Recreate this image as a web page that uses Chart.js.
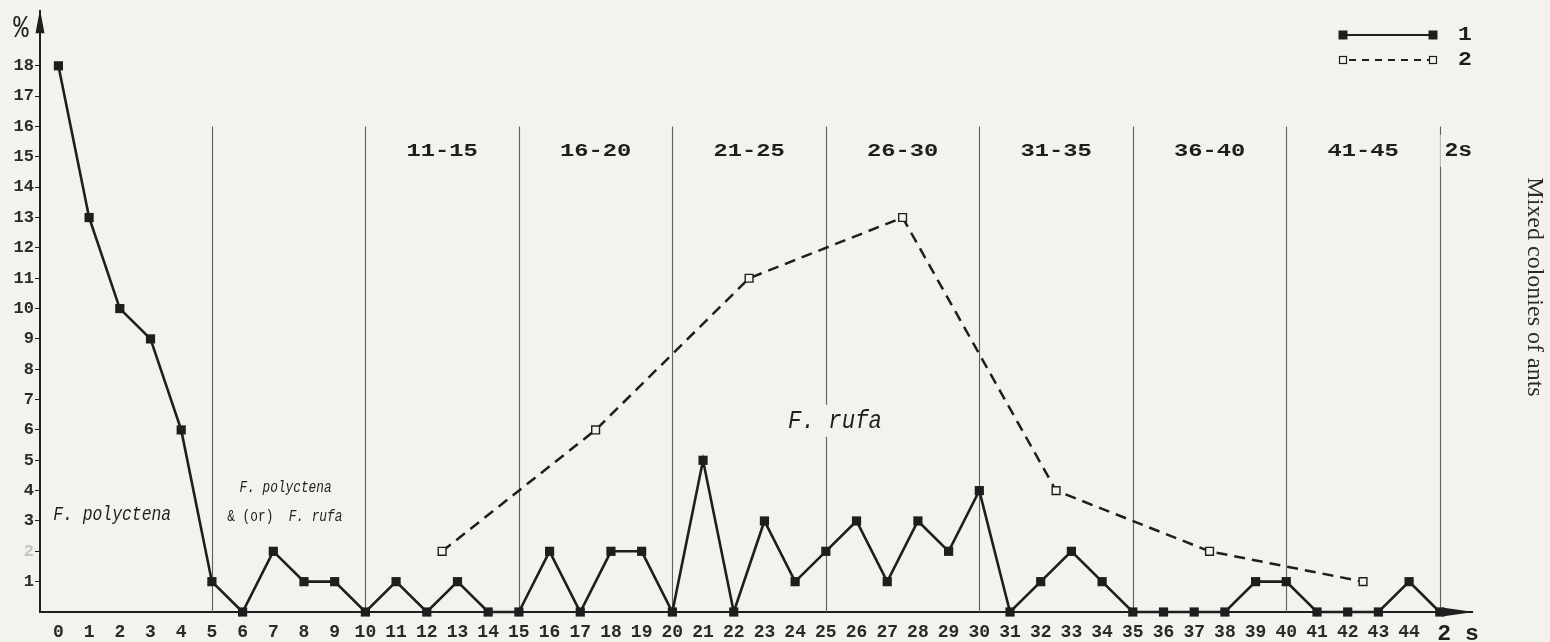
<!DOCTYPE html>
<html>
<head>
<meta charset="utf-8">
<script src="https://cdn.jsdelivr.net/npm/chart.js@4.4.1/dist/chart.umd.min.js"></script>
<style>
    html, body { margin: 0; padding: 0; background: #f3f2ed; overflow: hidden; }
    #chart { display: block; }
</style>
</head>
<body>
<canvas id="chart" width="1550" height="642"></canvas>
<script>
// ========================================
// DATA
// ========================================
const xTicks = [0, 1, 2, 3, 4, 5, 6, 7, 8, 9, 10, 11, 12, 13, 14, 15, 16, 17, 18, 19, 20, 21, 22,
    23, 24, 25, 26, 27, 28, 29, 30, 31, 32, 33, 34, 35, 36, 37, 38, 39, 40, 41, 42, 43, 44];
const yTicks = [1, 2, 3, 4, 5, 6, 7, 8, 9, 10, 11, 12, 13, 14, 15, 16, 17, 18];

// series 1: one value per class 0..45
const xSeries1 = [0, 1, 2, 3, 4, 5, 6, 7, 8, 9, 10, 11, 12, 13, 14, 15, 16, 17, 18, 19, 20, 21, 22,
    23, 24, 25, 26, 27, 28, 29, 30, 31, 32, 33, 34, 35, 36, 37, 38, 39, 40, 41, 42, 43, 44, 45];
const ySeries1 = [18, 13, 10, 9, 6, 1, 0, 2, 1, 1, 0, 1, 0, 1, 0, 0, 2, 0, 2, 2, 0, 5, 0,
    3, 1, 2, 3, 1, 3, 2, 4, 0, 1, 2, 1, 0, 0, 0, 0, 1, 1, 0, 0, 0, 1, 0];

// series 2: one value per 5-class group
const xSeries2 = [12.5, 17.5, 22.5, 27.5, 32.5, 37.5, 42.5];
const ySeries2 = [2, 6, 11, 13, 4, 2, 1];

const groupBounds = [5, 10, 15, 20, 25, 30, 35, 40, 45];
const groupTop = 16;
const groupLabels = ['11-15', '16-20', '21-25', '26-30', '31-35', '36-40', '41-45'];
const groupCenters = [12.5, 17.5, 22.5, 27.5, 32.5, 37.5, 42.5];
const legendLabels = ['1', '2'];

// ========================================
// STYLE
// ========================================
const INK = '#1e1e1e';
const PAPER = '#f3f2ed';
const MONO = '"Liberation Mono", "DejaVu Sans Mono", monospace';

function toPoints(xs, ys) {
    return xs.map((x, i) => ({ x: x, y: ys[i] }));
}

// draw text scaled horizontally, with a paper patch behind it
function drawText(ctx, txt, x, y, font, sx, clear, align) {
    ctx.save();
    ctx.font = font;
    ctx.textAlign = align || 'center';
    ctx.textBaseline = 'middle';
    const w = ctx.measureText(txt).width * sx;
    if (clear) {
        ctx.fillStyle = PAPER;
        ctx.fillRect(x - w / 2 - 4, y - 16, w + 8, 32);
    }
    ctx.translate(x, y);
    ctx.scale(sx, 1);
    ctx.fillStyle = INK;
    ctx.fillText(txt, 0, 0);
    ctx.restore();
}

const decorPlugin = {
    id: 'decor',
    beforeDraw(chart) {
        const ctx = chart.ctx;
        ctx.save();
        ctx.fillStyle = PAPER;
        ctx.fillRect(0, 0, chart.width, chart.height);
        ctx.restore();
    },
    beforeDatasetsDraw(chart) {
        const ctx = chart.ctx;
        const xs = chart.scales.x;
        const ys = chart.scales.y;

        // group separators
        ctx.save();
        ctx.strokeStyle = '#606060';
        ctx.lineWidth = 1.1;
        groupBounds.forEach(b => {
            const px = Math.round(xs.getPixelForValue(b)) + 0.5;
            ctx.beginPath();
            ctx.moveTo(px, ys.getPixelForValue(groupTop));
            ctx.lineTo(px, ys.getPixelForValue(0));
            ctx.stroke();
        });
        ctx.restore();

        // group labels
        groupLabels.forEach((lab, i) => {
            drawText(ctx, lab, xs.getPixelForValue(groupCenters[i]), ys.getPixelForValue(15.2),
                'bold 19px ' + MONO, 1.25, false);
        });
        drawText(ctx, '2s', xs.getPixelForValue(45.6), ys.getPixelForValue(15.2),
            'bold 20px ' + MONO, 1.15, true);

        // species labels
        drawText(ctx, 'F. polyctena', xs.getPixelForValue(1.75), ys.getPixelForValue(3.2),
            'italic 21px ' + MONO, 0.78, false);
        drawText(ctx, 'F. polyctena', xs.getPixelForValue(7.4), ys.getPixelForValue(4.1),
            'italic 16px ' + MONO, 0.8, false);
        drawText(ctx, '& (or)', xs.getPixelForValue(5.5), ys.getPixelForValue(3.15),
            '16px ' + MONO, 0.8, false, 'left');
        drawText(ctx, 'F. rufa', xs.getPixelForValue(7.5), ys.getPixelForValue(3.15),
            'italic 16px ' + MONO, 0.8, false, 'left');
        drawText(ctx, 'F. rufa', xs.getPixelForValue(25.3), ys.getPixelForValue(6.3),
            'italic 26px ' + MONO, 0.86, true);
    },
    afterDraw(chart) {
        const ctx = chart.ctx;
        const area = chart.chartArea;
        ctx.save();
        ctx.fillStyle = INK;

        // y arrow
        ctx.beginPath();
        ctx.moveTo(area.left, area.top - 2);
        ctx.lineTo(area.left - 4.5, area.top + 22);
        ctx.lineTo(area.left + 4.5, area.top + 22);
        ctx.closePath();
        ctx.fill();

        // x arrow
        ctx.beginPath();
        ctx.moveTo(area.right + 2, area.bottom);
        ctx.lineTo(area.right - 30, area.bottom - 4.5);
        ctx.lineTo(area.right - 30, area.bottom + 4.5);
        ctx.closePath();
        ctx.fill();

        // axis names
        drawText(ctx, '%', 21, 29, '32px ' + MONO, 0.8, false);
        drawText(ctx, '2 s', area.right - 14, area.bottom + 22, 'bold 22px ' + MONO, 1.05, false);

        // legend
        const lx1 = 1343, lx2 = 1433;
        const ly = [35, 60];
        ctx.strokeStyle = INK;
        ctx.lineWidth = 2.2;
        ctx.beginPath();
        ctx.moveTo(lx1, ly[0]);
        ctx.lineTo(lx2, ly[0]);
        ctx.stroke();
        ctx.fillRect(lx1 - 4.5, ly[0] - 4.5, 9, 9);
        ctx.fillRect(lx2 - 4.5, ly[0] - 4.5, 9, 9);

        ctx.lineWidth = 2;
        ctx.setLineDash([7, 6]);
        ctx.beginPath();
        ctx.moveTo(lx1 + 6, ly[1]);
        ctx.lineTo(lx2 - 4, ly[1]);
        ctx.stroke();
        ctx.setLineDash([]);
        ctx.lineWidth = 1.2;
        ctx.fillStyle = PAPER;
        [lx1, lx2].forEach(px => {
            ctx.fillRect(px - 3.5, ly[1] - 3.5, 7, 7);
            ctx.strokeRect(px - 3.5, ly[1] - 3.5, 7, 7);
        });
        ctx.fillStyle = INK;
        legendLabels.forEach((lab, i) => {
            drawText(ctx, lab, 1465, ly[i], 'bold 21px ' + MONO, 1.1, false);
        });

        // side title
        ctx.save();
        ctx.translate(1534, 287);
        ctx.rotate(Math.PI / 2);
        ctx.font = '24px "Liberation Serif", "DejaVu Serif", serif';
        ctx.textAlign = 'center';
        ctx.textBaseline = 'middle';
        ctx.fillStyle = '#2a2a2a';
        ctx.fillText('Mixed colonies of ants', 0, 0);
        ctx.restore();

        ctx.restore();
    }
};

new Chart(document.getElementById('chart'), {
    type: 'line',
    data: {
        datasets: [
            {
                label: legendLabels[0],
                data: toPoints(xSeries1, ySeries1),
                borderColor: INK,
                borderWidth: 2.6,
                pointStyle: 'rect',
                pointRadius: 6.5,
                pointBackgroundColor: INK,
                pointBorderColor: INK,
                pointBorderWidth: 0,
                tension: 0,
                clip: false
            },
            {
                label: legendLabels[1],
                data: toPoints(xSeries2, ySeries2),
                borderColor: INK,
                borderWidth: 2.5,
                borderDash: [11, 7],
                pointStyle: 'rect',
                pointRadius: 5.5,
                pointBackgroundColor: PAPER,
                pointBorderColor: INK,
                pointBorderWidth: 1.4,
                tension: 0,
                clip: false
            }
        ]
    },
    options: {
        responsive: false,
        animation: false,
        devicePixelRatio: 1,
        layout: { padding: { top: 10, right: 78, left: 0, bottom: 0 } },
        plugins: {
            legend: { display: false },
            tooltip: { enabled: false }
        },
        scales: {
            x: {
                type: 'linear',
                min: -0.6,
                max: 46.05,
                afterFit: s => { s.height = 30; },
                afterBuildTicks: s => { s.ticks = xTicks.map(v => ({ value: v })); },
                grid: { drawOnChartArea: false, drawTicks: false },
                border: { color: INK, width: 2 },
                ticks: {
                    autoSkip: false,
                    maxRotation: 0,
                    padding: 10,
                    color: '#2a2a2a',
                    font: { family: MONO, size: 18, weight: 'bold' }
                }
            },
            y: {
                min: 0,
                max: 19.8,
                afterFit: s => { s.width = 40; },
                afterBuildTicks: s => { s.ticks = yTicks.map(v => ({ value: v })); },
                grid: { drawOnChartArea: false, tickLength: 5, color: INK },
                border: { color: INK, width: 2 },
                ticks: {
                    padding: 1,
                    color: c => (c.tick && c.tick.value === 2 ? '#c4c4c0' : '#2a2a2a'),
                    font: { family: MONO, size: 17, weight: 'bold' }
                }
            }
        }
    },
    plugins: [decorPlugin]
});
</script>
</body>
</html>
